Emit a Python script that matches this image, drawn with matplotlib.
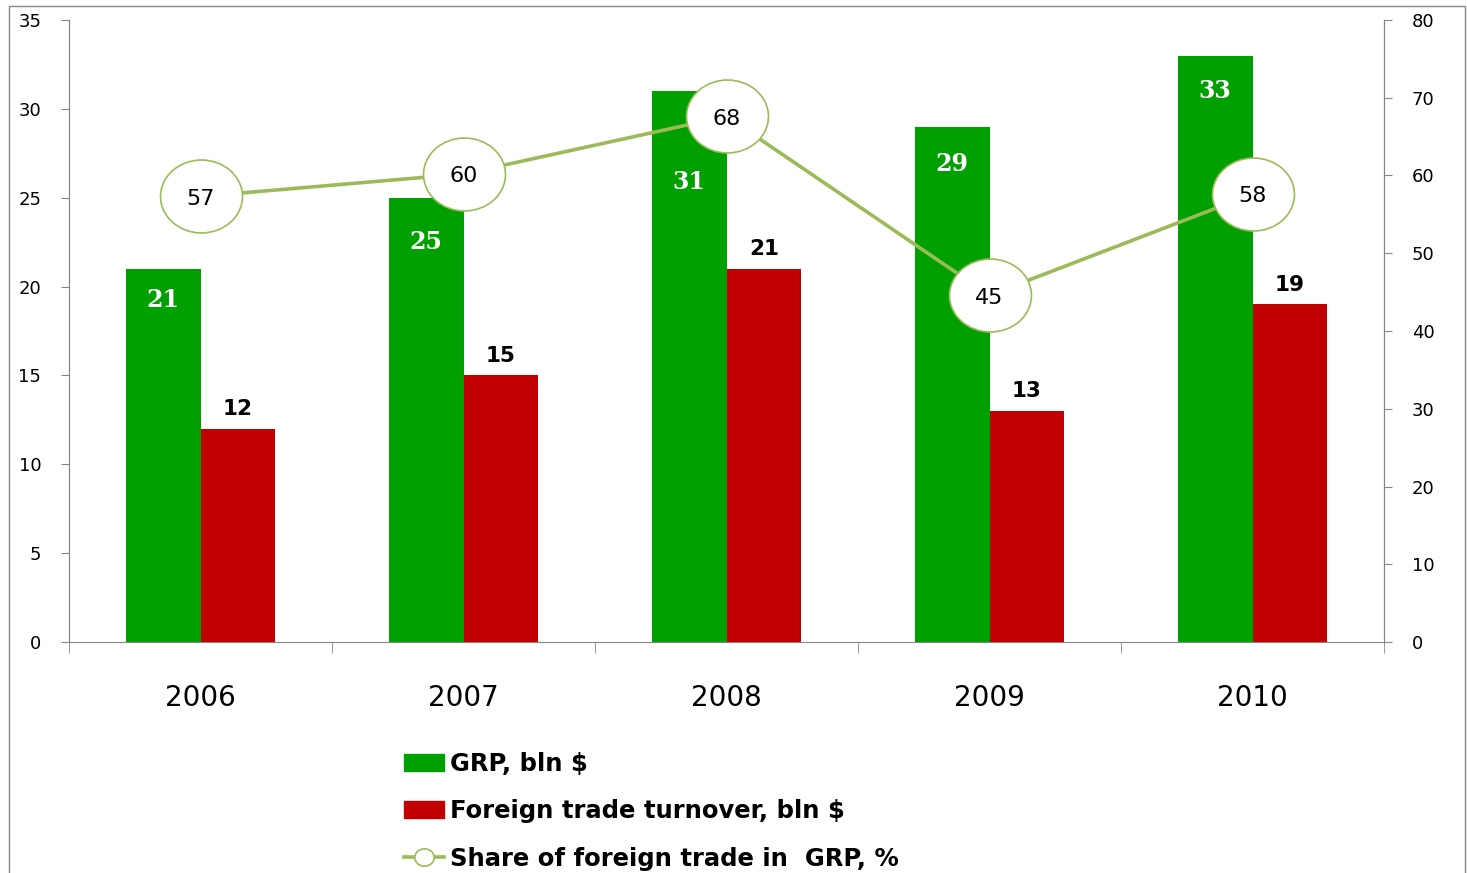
import numpy as np
import matplotlib
matplotlib.use("Agg")
import matplotlib.pyplot as plt
from matplotlib.path import Path
from matplotlib.transforms import Affine2D
from matplotlib.patches import Rectangle, Patch
from matplotlib.lines import Line2D

years = ['2006', '2007', '2008', '2009', '2010']
grp = [21, 25, 31, 29, 33]
trade = [12, 15, 21, 13, 19]
share = [57.3, 60.2, 67.6, 44.6, 57.6]

GREEN = '#00A000'
RED = '#C00000'
OLIVE = '#9BBB59'
GRAY = '#868686'

plt.rcParams['font.family'] = ['DejaVu Sans']

fig = plt.figure(figsize=(14.67, 8.73), dpi=100)
ax = fig.add_axes([0.04704, 0.2646, 0.8964, 0.7125])
ax2 = ax.twinx()

x = np.arange(len(years))
w = 0.285
ax.bar(x - w / 2, grp, width=w, color=GREEN, zorder=2)
ax.bar(x + w / 2, trade, width=w, color=RED, zorder=2)

# green labels sit inside the bars, pushed down where the line markers overlap
grp_label_drop = [1.75, 2.5, 5.1, 2.1, 2.0]
for xi, v, d in zip(x, grp, grp_label_drop):
    ax.text(xi - w / 2, v - d, str(v), ha='center', va='center', color='white',
            fontsize=17, fontweight='bold', family='DejaVu Serif', zorder=3)
for xi, v in zip(x, trade):
    ax.text(xi + w / 2, v + 1.1, str(v), ha='center', va='center', color='black',
            fontsize=15.5, fontweight='bold', zorder=3)

ax.set_xlim(-0.5, 4.5)
ax.set_ylim(0, 35)
ax.set_yticks(range(0, 36, 5))
ax.set_xticks(x)
ax.set_xticklabels(years, fontsize=20)
ax.set_xticks(np.arange(-0.5, 5, 1), minor=True)
ax.tick_params(axis='x', which='major', length=0, pad=30)
ax.tick_params(axis='x', which='minor', length=8, color=GRAY, direction='out')
ax.tick_params(axis='y', labelsize=13, length=6, color=GRAY, pad=14)

ax2.set_ylim(0, 80)
ax2.set_yticks(range(0, 81, 10))
ax2.tick_params(axis='y', labelsize=13, length=6, color=GRAY, pad=14)

for a in (ax, ax2):
    a.spines['top'].set_visible(False)
    for s in ('left', 'right', 'bottom'):
        a.spines[s].set_color(GRAY)
ax2.spines['bottom'].set_visible(False)

# elliptical marker
ell = Path.unit_circle().transformed(Affine2D().scale(1.0, 0.89))
ax2.plot(x, share, color=OLIVE, lw=2.6, marker=ell, markersize=59,
         markerfacecolor='white', markeredgecolor=OLIVE, markeredgewidth=1.2, zorder=4)
for xi, v in zip(x, share):
    ax2.text(xi, v - 0.3, f'{v:.0f}', ha='center', va='center', fontsize=16, zorder=5)

ax2.set_zorder(ax.get_zorder() + 1)
ax.patch.set_visible(False)

handles = [Patch(color=GREEN), Patch(color=RED),
           Line2D([], [], color=OLIVE, lw=2.6, marker=ell, markersize=14,
                  markerfacecolor='white', markeredgecolor=OLIVE, markeredgewidth=1.2)]
labels = ['GRP, bln $', 'Foreign trade turnover, bln $', 'Share of foreign trade in  GRP, %']
fig.legend(handles, labels, loc='upper left', bbox_to_anchor=(0.2754, 0.139),
           frameon=False, prop={'weight': 'bold', 'size': 17.5}, handlelength=1.65,
           handleheight=0.7, handletextpad=0.25, labelspacing=0.97, borderaxespad=0,
           borderpad=0)

fig.add_artist(Rectangle((0.00613, -0.2), 0.9925, 1.1931, transform=fig.transFigure,
                         fill=False, edgecolor=GRAY, lw=1.0))

fig.savefig('out.png', dpi=100)
